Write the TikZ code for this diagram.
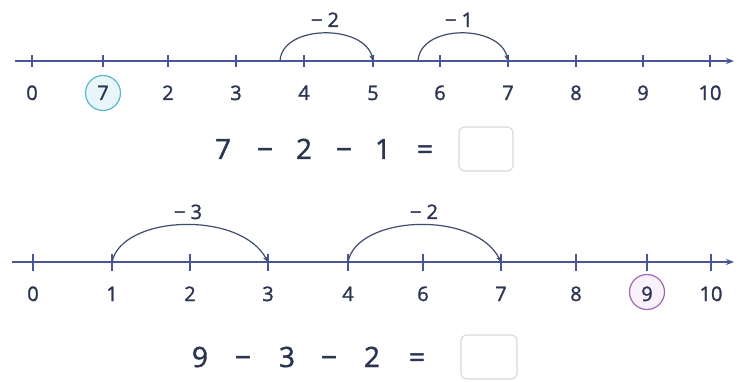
\documentclass[tikz,border=0pt]{standalone}
\usepackage{fontspec}
\setmainfont{Open Sans}[FakeBold=1.4]
\usetikzlibrary{arrows.meta}
\definecolor{axisc}{HTML}{4A5596}
\definecolor{txtc}{HTML}{2B3552}
\definecolor{arcc}{HTML}{3F4D6B}
\definecolor{cyanb}{HTML}{5BB8CC}
\definecolor{cyanf}{HTML}{E8F6FA}
\definecolor{purb}{HTML}{9A6BAF}
\definecolor{purf}{HTML}{F9F2FC}
\definecolor{boxc}{HTML}{DADAE0}
\begin{document}
\begin{tikzpicture}[x=1pt,y=-1pt,
  axisline/.style={draw=axisc,line width=1.8pt,-{Stealth[length=8pt,width=6pt]}},
  tickmark/.style={draw=axisc,line width=1.3pt},
  num/.style={text=txtc,font=\fontsize{20}{22}\selectfont,inner sep=0pt,anchor=base},
  jumplabel/.style={text=txtc,font=\fontsize{20}{22}\selectfont,inner sep=0pt,anchor=base},
  eqtext/.style={text=txtc,font=\fontsize{28}{30}\selectfont,inner sep=0pt,anchor=base},
  jump/.style={draw=arcc,line width=1.2pt,-{Stealth[length=6pt,width=5pt]}},
  ring/.style={circle,line width=1.2pt,minimum size=35pt,inner sep=0pt},
  ansbox/.style={draw=boxc,line width=1.2pt,rounded corners=6pt,fill=white,inner sep=0pt}]
\path[fill=white] (0,0) rectangle (747,382);
\useasboundingbox (0,0) rectangle (747,382);
% ---------- top number line ----------
\coordinate (As) at (15,61);
\coordinate (Ae) at (734,61);
\draw[axisline] (As) -- (Ae);
\node[ring,draw=cyanb,fill=cyanf] (ringA) at (103,93) {};
\foreach \x/\lab/\n in {32/0/0,103/7/1,168/2/2,236/3/3,304/4/4,373/5/5,440/6/6,508/7/7,576/8/8,643/9/9,710/10/10}{
  \coordinate (ta\n) at (\x,61);
  \draw[tickmark] (\x,55) -- (\x,67);
  \node[num] (la\n) at (\x,100) {\lab};
}
\coordinate (sA1) at (280,61);
\coordinate (sA2) at (418,61);
\draw[jump] (sA1) .. controls (282,24) and (365,24) .. (ta5);
\draw[jump] (sA2) .. controls (420,24) and (500,24) .. (ta7);
\node[jumplabel] (jA1) at (325,27) {− 2};
\node[jumplabel] (jA2) at (459,27) {− 1};
% equation 1
\node[eqtext] (e1a) at (223,159) {7};
\node[eqtext] (e1b) at (265,159) {−};
\node[eqtext] (e1c) at (304,159) {2};
\node[eqtext] (e1d) at (344,159) {−};
\node[eqtext] (e1e) at (383,159) {1};
\node[eqtext] (e1f) at (425,159) {=};
\node[ansbox,minimum width=54pt,minimum height=44pt] (box1) at (486,149) {};
% ---------- bottom number line ----------
\coordinate (Bs) at (12,262);
\coordinate (Be) at (734,262);
\draw[axisline] (Bs) -- (Be);
\node[ring,draw=purb,fill=purf] (ringB) at (647,292) {};
\foreach \x/\lab/\n in {33/0/0,112/1/1,190/2/2,268/3/3,348/4/4,423/6/5,501/7/6,576/8/7,647/9/8,711/10/9}{
  \coordinate (tb\n) at (\x,262);
  \draw[tickmark] (\x,254) -- (\x,271);
  \node[num] (lb\n) at (\x,301) {\lab};
}
\draw[jump] (tb1) .. controls (122,215) and (240,210) .. (tb3);
\draw[jump] (tb4) .. controls (357,215) and (475,210) .. (tb6);
\node[jumplabel] (jB1) at (188,219) {− 3};
\node[jumplabel] (jB2) at (424,219) {− 2};
% equation 2
\node[eqtext] (e2a) at (200,367) {9};
\node[eqtext] (e2b) at (243,367) {−};
\node[eqtext] (e2c) at (287,367) {3};
\node[eqtext] (e2d) at (329,367) {−};
\node[eqtext] (e2e) at (372,367) {2};
\node[eqtext] (e2f) at (417,367) {=};
\node[ansbox,minimum width=56pt,minimum height=44pt] (box2) at (489,357) {};
\end{tikzpicture}
\end{document}
